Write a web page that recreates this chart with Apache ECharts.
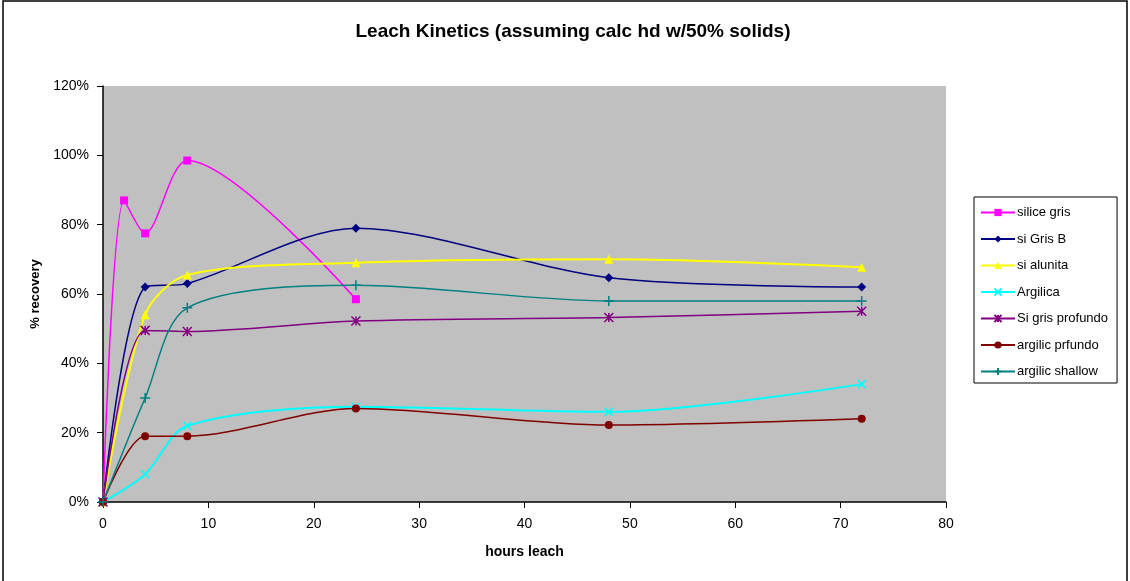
<!DOCTYPE html>
<html>
<head>
<meta charset="utf-8">
<script src="https://cdn.jsdelivr.net/npm/echarts@6/dist/echarts.min.js"></script>
<style>
  html, body { margin: 0; padding: 0; background: #fff; }
  #chart { width: 1130px; height: 581px; }
</style>
</head>
<body>
<div id="chart"></div>
<script>
// Leach time (hours) and recovery fraction per sample
const hours = [0, 2, 4, 8, 24, 48, 72];
const siliceGris      = [0, 0.87, 0.775, 0.985, 0.585, null, null];
const siGrisB         = [0, null, 0.62, 0.63, 0.79, 0.647, 0.62];
const siAlunita       = [0, null, 0.54, 0.655, 0.69, 0.70, 0.677];
const argilica        = [0, null, 0.08, 0.22, 0.275, 0.26, 0.34];
const siGrisProfundo  = [0, null, 0.495, 0.492, 0.522, 0.532, 0.55];
const argilicPrfundo  = [0, null, 0.19, 0.19, 0.27, 0.222, 0.24];
const argilicShallow  = [0, null, 0.30, 0.56, 0.625, 0.58, 0.58];

const FONT = 'Liberation Sans, Arial, sans-serif';

const seriesDefs = [
  { name: 'silice gris', data: siliceGris, color: '#ff00ff', symbol: 'rect', size: 8 },
  { name: 'si Gris B', data: siGrisB, color: '#000080', symbol: 'diamond', size: 9 },
  { name: 'si alunita', data: siAlunita, color: '#ffff00', symbol: 'triangle', size: 9 },
  { name: 'Argilica', data: argilica, color: '#00ffff', symbol: 'path://M0,0L10,10M10,0L0,10', size: 8, stroke: true },
  { name: 'Si gris profundo', data: siGrisProfundo, color: '#800080', symbol: 'path://M0,0L10,10M10,0L0,10M5,0L5,10', size: 9, stroke: true },
  { name: 'argilic prfundo', data: argilicPrfundo, color: '#800000', symbol: 'circle', size: 8 },
  { name: 'argilic shallow', data: argilicShallow, color: '#008080', symbol: 'path://M5,0L5,10M0,5L10,5', size: 10, stroke: true }
];

function pairs(values) {
  const out = [];
  values.forEach((v, i) => { if (v !== null) out.push([hours[i], v]); });
  return out;
}

const series = seriesDefs.map(d => ({
  name: d.name,
  type: 'line',
  data: pairs(d.data),
  smooth: 0.3,
  symbol: d.symbol,
  symbolSize: d.size,
  showSymbol: true,
  lineStyle: { color: d.color, width: d.color === '#00ffff' || d.color === '#ffff00' ? 2 : 1.5 },
  itemStyle: d.stroke
    ? { color: d.color, borderColor: d.color, borderWidth: 1.5 }
    : { color: d.color, borderColor: d.color, borderWidth: 0 },
  emphasis: { disabled: true },
  animation: false
}));

const chart = echarts.init(document.getElementById('chart'));
chart.setOption({
  animation: false,
  backgroundColor: '#ffffff',
  textStyle: { fontFamily: FONT },
  title: {
    text: 'Leach Kinetics (assuming calc hd w/50% solids)',
    left: 568, top: 17, textAlign: 'center',
    textStyle: { fontSize: 19, fontWeight: 'bold', color: '#000', fontFamily: FONT }
  },
  graphic: [
    { type: 'rect', shape: { x: 3, y: 1, width: 1124, height: 600 }, style: { fill: 'none', stroke: '#000', lineWidth: 1.5 }, silent: true }
  ],
  grid: { left: 103, right: 184, top: 86, bottom: 79, show: true, backgroundColor: '#c0c0c0', borderWidth: 0 },
  legend: {
    orient: 'vertical',
    left: 974, top: 197,
    padding: [9, 9, 5, 6],
    itemGap: 13.5,
    itemWidth: 34, itemHeight: 9,
    backgroundColor: '#ffffff',
    borderColor: '#000', borderWidth: 1,
    borderRadius: 0,
    textStyle: { fontSize: 13, color: '#000', fontFamily: FONT, padding: [0, 0, 0, -3] },
    data: seriesDefs.map(d => d.name)
  },
  xAxis: {
    type: 'value', min: 0, max: 80, interval: 10,
    name: 'hours leach', nameLocation: 'middle', nameGap: 43,
    nameTextStyle: { fontSize: 14, fontWeight: 'bold', color: '#000' },
    axisLine: { show: true, lineStyle: { color: '#000', width: 1.5 } },
    axisTick: { show: true, inside: false, length: 6, lineStyle: { color: '#000' } },
    axisLabel: { fontSize: 14, color: '#000', margin: 15 },
    splitLine: { show: false }
  },
  yAxis: {
    type: 'value', min: 0, max: 1.2, interval: 0.2,
    name: '% recovery', nameLocation: 'middle', nameGap: 61, nameRotate: 90,
    nameTextStyle: { fontSize: 13, fontWeight: 'bold', color: '#000' },
    axisLine: { show: true, lineStyle: { color: '#000', width: 1.5 } },
    axisTick: { show: true, inside: false, length: 6, lineStyle: { color: '#000' } },
    axisLabel: { fontSize: 14, color: '#000', margin: 14, formatter: v => Math.round(v * 100) + '%' },
    splitLine: { show: false }
  },
  series: series
});
</script>
</body>
</html>
